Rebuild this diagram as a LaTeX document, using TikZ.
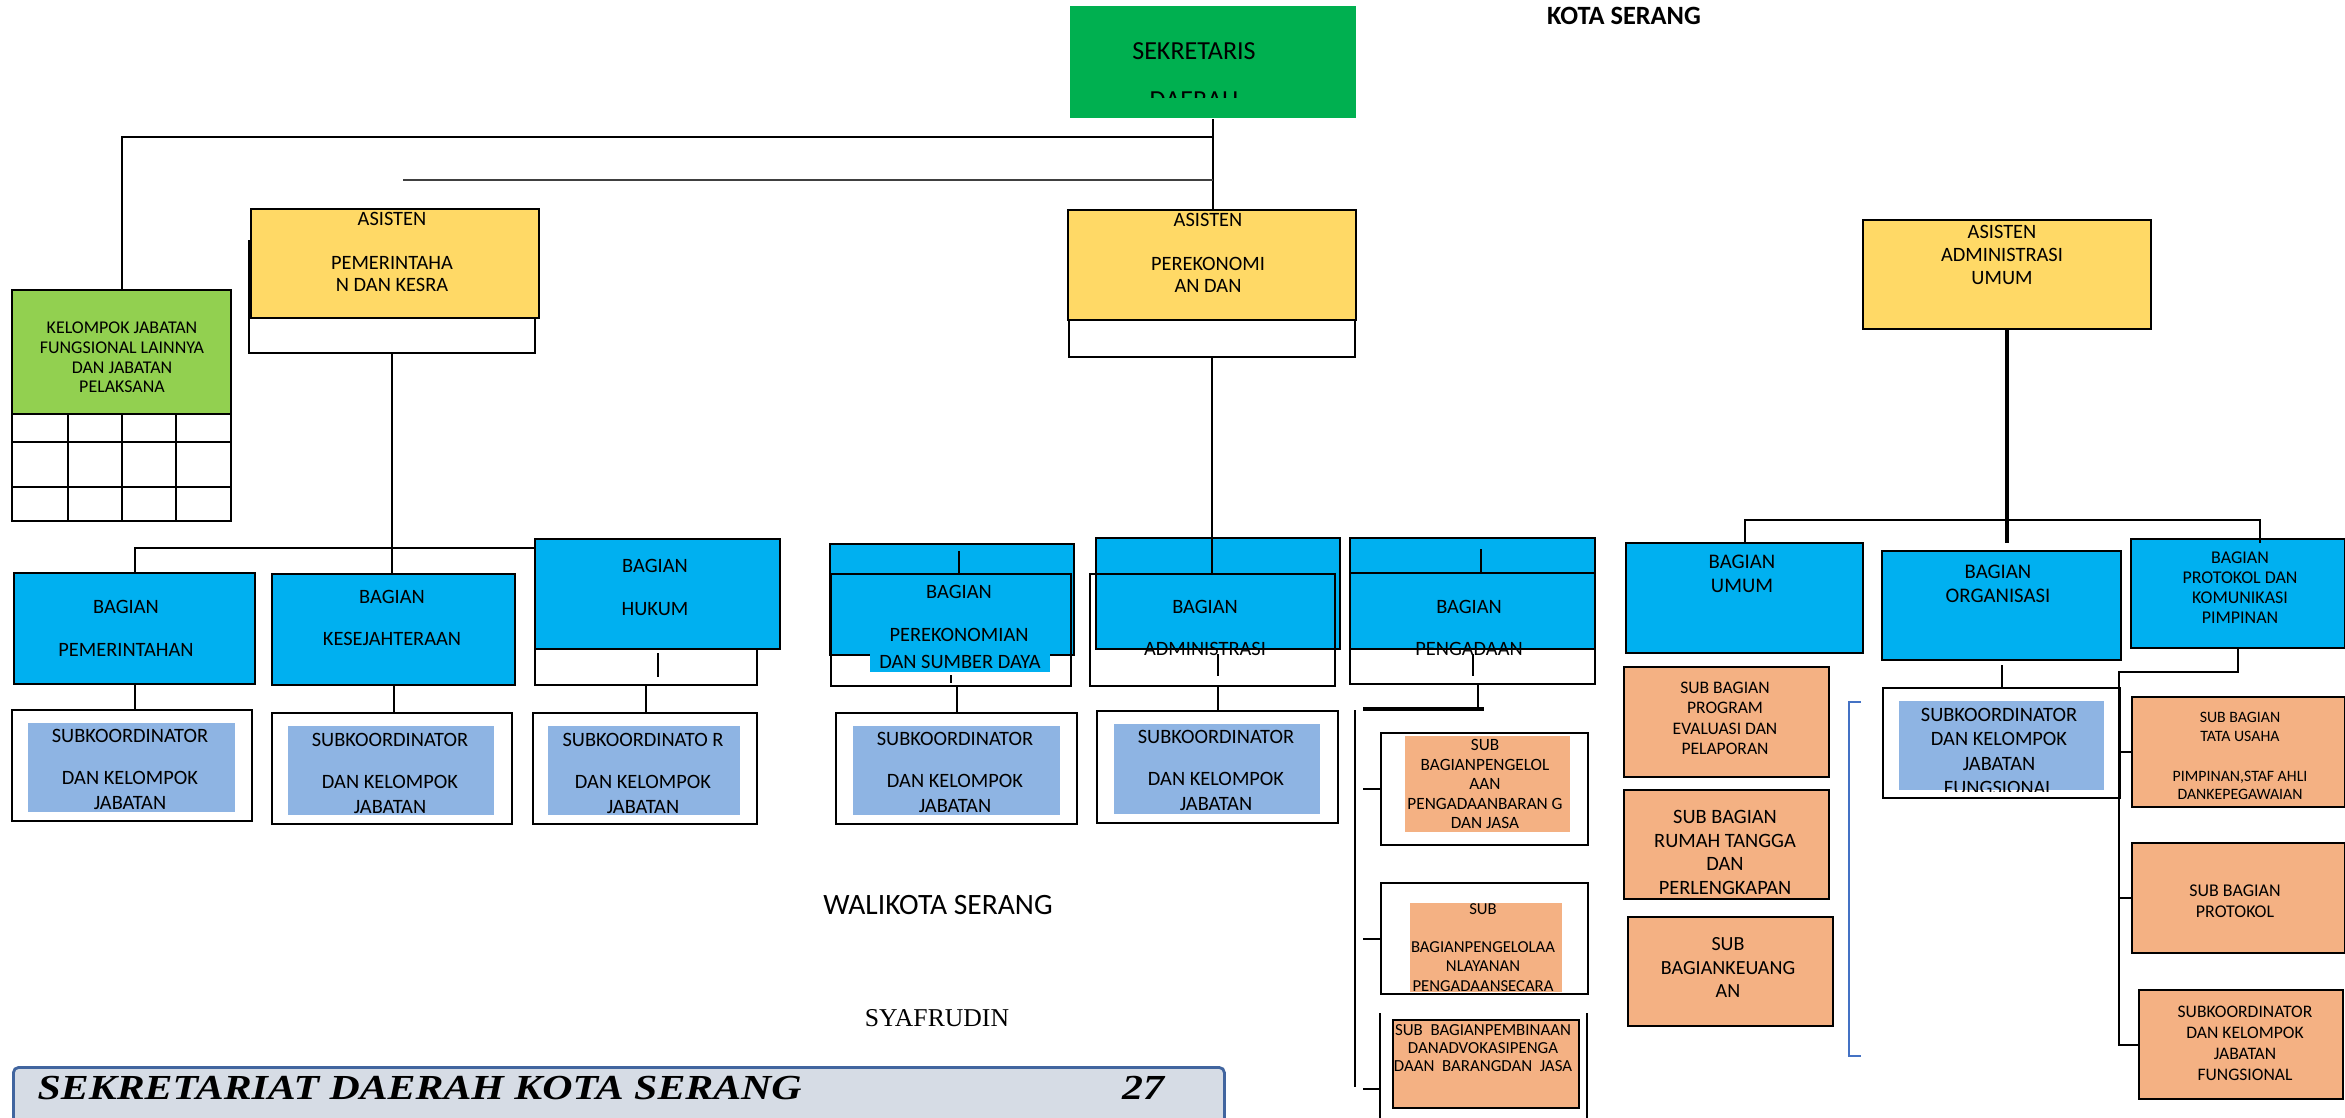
\documentclass[tikz,border=0pt]{standalone}
\usepackage{fontspec}
\setmainfont{Carlito}
\newfontfamily\serifname{Liberation Serif}
\usepackage{tikz}

\definecolor{sekGreen}{HTML}{00B050}
\definecolor{kelGreen}{HTML}{92D050}
\definecolor{asisYellow}{HTML}{FFD966}
\definecolor{bagBlue}{HTML}{00B0F0}
\definecolor{subBlue}{HTML}{8EB4E3}
\definecolor{subOrange}{HTML}{F4B183}
\definecolor{footFill}{HTML}{D6DCE5}
\definecolor{footLine}{HTML}{41659F}
\definecolor{brkBlue}{HTML}{4472C4}

\newcommand{\fsz}[2]{\fontsize{#1}{#2}\selectfont}

\tikzset{box/.style={anchor=north west, inner sep=0pt, line width=0.6pt}}
\tikzset{wh/.style 2 args={minimum width=#1*0.01cm, minimum height=#2*0.01cm}}
\tikzset{
    yellowbox/.style={box, draw, fill=asisYellow},
    bluebox/.style={box, draw, fill=bagBlue},
    orangebox/.style={box, draw, fill=subOrange},
    whitebox/.style={box, draw, fill=white},
    openbox/.style={box, draw},
    softblue/.style={box, fill=subBlue},
    softorange/.style={box, fill=subOrange}}
\tikzset{
    txt/.style={align=center, inner sep=0pt},
    conn/.style={line width=0.6pt},
    busline/.style={line width=1pt},
    hairline/.style={line width=0.5pt, black!75}}

\begin{document}
\begin{tikzpicture}[x=0.01cm, y=-0.01cm]
    \useasboundingbox (0,0) rectangle (2345,1118);

    % top of the chart
    \node[box, fill=sekGreen, wh={286}{112}] (sek) at (1069,5) {};
    \begin{scope}
        \clip (sek.north west) rectangle ([yshift=0.22cm]sek.south east);
        \node[txt, font=\fsz{7.4}{13.9}] (sek-t) at (1194,75.5) {SEKRETARIS\\DAERAH};
    \end{scope}
    \node[txt, font=\bfseries\fsz{7.5}{8}] (kota) at (1624,16) {KOTA SERANG};

    \node[whitebox, wh={286}{112}] (asp-w) at (248,240) {};
    \node[yellowbox, wh={288}{109}] (asp) at (250,208) {};
    \node[txt, font=\fsz{5.8}{6.26}] (asp-t) at (392,252) {ASISTEN\\[6.26pt]PEMERINTAHA\\N DAN KESRA};

    \node[whitebox, wh={286}{37}] (ape-w) at (1068,319) {};
    \node[yellowbox, wh={288}{110}] (ape) at (1067,209) {};
    \node[txt, font=\fsz{5.8}{6.26}] (ape-t) at (1208,253) {ASISTEN\\[6.26pt]PEREKONOMI\\AN DAN};

    \node[yellowbox, wh={288}{109}] (asa) at (1862,219) {};
    \node[txt, font=\fsz{5.8}{6.5}] (asa-t) at (2002,255) {ASISTEN\\ADMINISTRASI\\UMUM};

    \node[box, draw, fill=kelGreen, wh={219}{124}] (kel) at (11,289) {};
    \node[txt, font=\fsz{5.1}{5.6}] (kel-t) at (122,357.5) {KELOMPOK JABATAN\\FUNGSIONAL LAINNYA\\DAN JABATAN\\PELAKSANA};
    \node[whitebox, wh={219}{107}] (kel-g) at (11,413) {};
    \draw[conn] (68,413) -- (68,520);
    \draw[conn] (122,413) -- (122,520);
    \draw[conn] (176,413) -- (176,520);
    \draw[conn] (11,442) -- (230,442);
    \draw[conn] (11,487) -- (230,487);

    \coordinate (j-top) at (0,137);
    \coordinate (j-mid) at (403,180);
    \draw[conn] (sek.south) -- (sek.south |- ape.north);
    \draw[conn] (kel.north) |- (j-top -| sek.south);
    \draw[hairline] (j-mid) -- (j-mid -| sek.south);

    % bagian under asisten pemerintahan
    \node[bluebox, wh={241}{111}] (bpem) at (13,572) {};
    \node[txt, font=\fsz{5.8}{6.3}] (bpem-t) at (126,628.5) {BAGIAN\\[5.9pt]PEMERINTAHAN};
    \node[whitebox, wh={240}{111}] (spem) at (11,709) {};
    \node[softblue, wh={207}{89}] (spem-i) at (27,722) {};
    \node[txt, font=\fsz{5.8}{7.1}] (spem-t) at (130,769.5) {SUBKOORDINATOR\\[4.85pt]DAN KELOMPOK\\JABATAN};

    \node[bluebox, wh={243}{111}] (bkes) at (271,573) {};
    \node[txt, font=\fsz{5.8}{6.3}] (bkes-t) at (392,618) {BAGIAN\\[5.6pt]KESEJAHTERAAN};
    \node[whitebox, wh={240}{111}] (skes) at (271,712) {};
    \node[softblue, wh={206}{89}] (skes-i) at (287,725) {};
    \node[txt, font=\fsz{5.8}{7.1}] (skes-t) at (390,773) {SUBKOORDINATOR\\[4.85pt]DAN KELOMPOK\\JABATAN};

    \node[whitebox, wh={222}{84}] (bhuk-w) at (534,600) {};
    \node[bluebox, wh={245}{110}] (bhuk) at (534,538) {};
    \node[txt, font=\fsz{5.8}{6.3}] (bhuk-t) at (655,587.5) {BAGIAN\\[5.9pt]HUKUM};
    \node[whitebox, wh={224}{111}] (shuk) at (532,712) {};
    \node[softblue, wh={192}{89}] (shuk-i) at (547,725) {};
    \node[txt, font=\fsz{5.8}{7.1}] (shuk-t) at (643,773) {SUBKOORDINATO R\\[4.85pt]DAN KELOMPOK\\JABATAN};

    \coordinate (j-left) at (0,548);
    \draw[conn] (asp-w.south) -- (asp-w.south |- bkes.north);
    \draw[conn] (bpem.north) |- (j-left -| bhuk.west);
    \draw[conn] (bpem.south) -- (bpem.south |- spem.north);
    \draw[conn] (bkes.south) -- (bkes.south |- skes.north);
    \draw[conn] (bhuk-w.south) -- (bhuk-w.south |- shuk.north);
    \draw[conn] ([yshift=-0.03cm]bhuk.south) -- ++(0,24);

    % bagian under asisten perekonomian
    \node[bluebox, wh={244}{111}] (bper) at (829,543) {};
    \node[openbox, wh={240}{112}] (bper-o) at (830,573) {};
    \node[txt, font=\fsz{5.8}{6.3}] (bper-t) at (959,613.5) {BAGIAN\\[5.9pt]PEREKONOMIAN};
    \node[txt, fill=bagBlue, minimum width=1.8cm, minimum height=0.2cm, font=\fsz{5.8}{7}] (bper-t2) at (960,662) {DAN SUMBER DAYA};
    \node[whitebox, wh={241}{111}] (sper) at (835,712) {};
    \node[softblue, wh={207}{89}] (sper-i) at (852,725) {};
    \node[txt, font=\fsz{5.8}{7.1}] (sper-t) at (955,772) {SUBKOORDINATOR\\[4.85pt]DAN KELOMPOK\\JABATAN};

    \node[bluebox, wh={244}{111}] (badm) at (1095,537) {};
    \node[openbox, wh={245}{112}] (badm-o) at (1089,573) {};
    \node[txt, font=\fsz{5.8}{6.3}] (badm-t) at (1205,628) {BAGIAN\\[5.7pt]ADMINISTRASI};
    \node[whitebox, wh={241}{112}] (sadm) at (1096,710) {};
    \node[softblue, wh={206}{90}] (sadm-i) at (1113,723) {};
    \node[txt, font=\fsz{5.8}{7.1}] (sadm-t) at (1216,770.5) {SUBKOORDINATOR\\[4.85pt]DAN KELOMPOK\\JABATAN};

    \node[bluebox, wh={245}{111}] (bpen) at (1349,537) {};
    \node[openbox, wh={245}{111}] (bpen-o) at (1349,572) {};
    \node[txt, font=\fsz{5.8}{6.3}] (bpen-t) at (1469,628) {BAGIAN\\[5.7pt]PENGADAAN};

    \node[whitebox, wh={207}{112}] (ps1) at (1380,732) {};
    \node[softorange, wh={165}{96}] (ps1-i) at (1404,735) {};
    \node[txt, font=\fsz{4.9}{5.55}] (ps1-t) at (1485,784) {SUB\\BAGIANPENGELOL\\AAN\\PENGADAANBARAN G\\DAN JASA};
    \node[whitebox, wh={207}{111}] (ps2) at (1380,882) {};
    \node[softorange, wh={152}{89}] (ps2-i) at (1409,902) {};
    \node[txt, font=\fsz{4.75}{5.5}] (ps2-t) at (1483,947.5) {SUB\\[5.3pt]BAGIANPENGELOLAA\\NLAYANAN\\PENGADAANSECARA};
    \draw[conn] (1380,1013) -- (1380,1125);
    \draw[conn] (1587,1013) -- (1587,1125);
    \node[orangebox, wh={186}{88}] (ps3) at (1392,1019) {};
    \node[txt, font=\fsz{4.8}{5.1}] (ps3-t) at (1483,1048) {SUB\ \ BAGIANPEMBINAAN\\DANADVOKASIPENGA\\DAAN\ \ BARANGDAN\ \ JASA};

    \draw[conn] (ape-w.south) -- (ape-w.south |- badm-o.north);
    \draw[conn] ([xshift=0.08cm]bper-o.north) -- ++(0,-22);
    \draw[conn] ([yshift=0.12cm]bper-o.south) -- ++(0,8);
    \draw[conn] (sper.north) -- (sper.north |- bper-o.south);
    \draw[conn] ([yshift=-0.04cm]badm.south) -- ++(0,22);
    \draw[conn] (sadm.north) -- (sadm.north |- badm-o.south);
    \draw[conn] ([xshift=0.08cm]bpen-o.north) -- ++(0,-23);
    \draw[conn] ([yshift=-0.04cm]bpen.south) -- ++(0,22);

    \coordinate (pg-busl) at (1363,709);
    \coordinate (pg-bus) at (1484,709);
    \coordinate (pg-top) at (1355,710);
    \coordinate (pg-bot) at (1355,1087);
    \coordinate (ps3-j) at (1363,1089);
    \draw[conn] ([xshift=0.055cm]bpen-o.south) -- ([xshift=0.055cm]bpen-o.south |- pg-bus);
    \draw[busline] (pg-busl) -- (pg-bus);
    \draw[conn] (pg-top) -- (pg-bot);
    \draw[conn] (ps1.west) -- (ps1.west -| pg-busl);
    \draw[conn] (ps2.west) -- (ps2.west -| pg-busl);
    \draw[conn] (ps3-j) -- (ps3-j -| ps1.west);

    % bagian under asisten administrasi umum
    \node[bluebox, wh={237}{110}] (bumum) at (1625,542) {};
    \node[txt, font=\fsz{5.9}{6.8}] (bumum-t) at (1742,574) {BAGIAN\\UMUM};
    \node[orangebox, wh={205}{110}] (sprog) at (1623,666) {};
    \node[txt, font=\fsz{5.0}{5.8}] (sprog-t) at (1725,718.5) {SUB BAGIAN\\PROGRAM\\EVALUASI DAN\\PELAPORAN};
    \node[orangebox, wh={205}{109}] (srum) at (1623,789) {};
    \node[txt, font=\fsz{5.8}{6.75}] (srum-t) at (1725,852.5) {SUB BAGIAN\\RUMAH TANGGA\\DAN\\PERLENGKAPAN};
    \node[orangebox, wh={205}{109}] (skeu) at (1627,916) {};
    \node[txt, font=\fsz{5.7}{6.7}] (skeu-t) at (1728,967.5) {SUB\\BAGIANKEUANG\\AN};
    \draw[brkBlue, line width=0.5pt] (1861,702) -- (1849,702) -- (1849,1056) -- (1861,1056);

    \node[bluebox, wh={239}{109}] (borg) at (1881,550) {};
    \node[txt, font=\fsz{5.9}{6.8}] (borg-t) at (1998,584) {BAGIAN\\ORGANISASI};
    \node[whitebox, wh={237}{110}] (sorg) at (1882,687) {};
    \node[softblue, wh={205}{89}] (sorg-i) at (1898,700) {};
    \begin{scope}
        \clip (sorg-i.north west) rectangle (sorg-i.south east);
        \node[txt, font=\fsz{5.8}{6.9}] (sorg-t) at (1999,751.5) {SUBKOORDINATOR\\DAN KELOMPOK\\JABATAN\\FUNGSIONAL};
    \end{scope}

    \node[bluebox, wh={214}{109}] (bprot) at (2130,538) {};
    \node[txt, font=\fsz{5.1}{5.7}] (bprot-t) at (2240,588) {BAGIAN\\PROTOKOL DAN\\KOMUNIKASI\\PIMPINAN};
    \node[orangebox, wh={213}{110}] (ptu) at (2131,696) {};
    \node[txt, font=\fsz{4.5}{5.3}] (ptu-t) at (2240,756) {SUB BAGIAN\\TATA USAHA\\[6.1pt]PIMPINAN,STAF AHLI\\DANKEPEGAWAIAN};
    \node[orangebox, wh={213}{110}] (ppro) at (2131,842) {};
    \node[txt, font=\fsz{5.1}{6}] (ppro-t) at (2235,901.5) {SUB BAGIAN\\PROTOKOL};
    \node[orangebox, wh={204}{109}] (pkor) at (2138,989) {};
    \node[txt, font=\fsz{5.0}{6}] (pkor-t) at (2245,1043.5) {SUBKOORDINATOR\\DAN KELOMPOK\\JABATAN\\FUNGSIONAL};

    \coordinate (r-bus) at (0,520);
    \coordinate (r-end) at (2260,543);
    \coordinate (p-bus) at (2119,672);
    \draw[busline] (asa.south) -- (asa.south |- r-end);
    \draw[conn] (bumum.north) |- (r-end |- r-bus) -- (r-end);
    \draw[conn] ([yshift=-0.04cm]borg.south) -- (borg.south |- sorg.north);
    \draw[conn] (bprot.south) |- (p-bus) |- (pkor.west);
    \draw[conn] (ptu.west) -- (ptu.west -| p-bus);
    \draw[conn] (ppro.west) -- (ppro.west -| p-bus);

    % signature and footer
    \node[txt, font=\fsz{8.4}{10}] (wali) at (938,905) {WALIKOTA SERANG};
    \node[txt, font=\serifname\fsz{7.3}{9}] (nama) at (937,1018) {SYAFRUDIN};
    \node[box, draw=footLine, fill=footFill, line width=0.8pt, rounded corners=1.5pt, wh={1211}{70}] (foot) at (12,1066) {};
    \node[txt, anchor=west, font=\serifname\bfseries\itshape\fsz{10}{12}] (foot-t) at (37,1088) {\scalebox{1.19}[1]{SEKRETARIAT DAERAH KOTA SERANG}};
    \node[txt, font=\serifname\bfseries\itshape\fsz{10}{12}] (foot-n) at (1143,1088) {\scalebox{1.19}[1]{27}};

\end{tikzpicture}
\end{document}
